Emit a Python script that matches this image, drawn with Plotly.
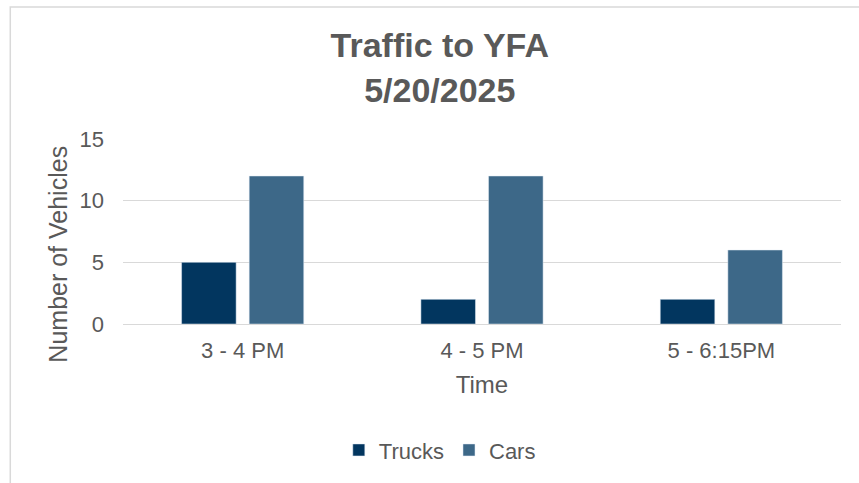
import plotly.graph_objects as go

time_slots = ["3 - 4 PM", "4 - 5 PM", "5 - 6:15PM"]
trucks = [5, 2, 2]
cars = [12, 12, 6]
y_ticks = [0, 5, 10, 15]

grey = "#595959"
font = "Liberation Sans, Arial, sans-serif"

fig = go.Figure()
fig.add_trace(go.Bar(x=time_slots, y=trucks, name="Trucks", marker_color="#02365F"))
fig.add_trace(go.Bar(x=time_slots, y=cars, name="Cars", marker_color="#3D6888"))

# outer chart border, like the spreadsheet chart frame
fig.add_shape(type="rect", xref="paper", yref="paper",
              x0=-0.157, x1=1.2, y0=-1.2, y1=1.713,
              line=dict(color="#D9D9D9", width=1.5), layer="below")

# y title as annotation: in the original it sits a little below the plot centre
fig.add_annotation(text="Number of Vehicles", textangle=-90,
                   xref="paper", yref="paper", x=-0.0905, y=0.375,
                   xanchor="center", yanchor="middle", showarrow=False,
                   font=dict(size=25, color=grey))

fig.update_layout(
    width=859, height=483,
    margin=dict(l=123, r=18, t=139, b=159),
    paper_bgcolor="white", plot_bgcolor="white",
    font=dict(family=font, color=grey, size=22),
    title=dict(text="<b>Traffic to YFA<br>5/20/2025</b>",
               x=0.512, xanchor="center", y=0.881, yanchor="middle",
               font=dict(size=34, color=grey)),
    barmode="group", bargap=0.435, bargroupgap=0.193,
    showlegend=True,
    legend=dict(orientation="h", xref="container", yref="container",
                x=0.512, xanchor="center", y=0.068, yanchor="middle",
                font=dict(size=22, color=grey), itemwidth=30),
)
fig.update_xaxes(
    title=dict(text="Time", standoff=13, font=dict(size=24, color=grey)),
    tickfont=dict(size=22, color=grey), automargin=False, ticklabelstandoff=7,
    showline=True, linecolor="#D9D9D9", linewidth=1, ticks="",
)
fig.update_yaxes(
    range=[0, 15], tickvals=y_ticks, tickfont=dict(size=22, color=grey), automargin=False,
    ticklabelstandoff=18,
    showgrid=True, gridcolor="#D9D9D9", gridwidth=1,
    zeroline=False, showline=False, ticks="", ticklen=0,
)

# drop the page's default body margin so the figure sits at the window origin
fig.write_html("out.html", config={"displayModeBar": False},
               post_script="document.body.style.margin='0';")
